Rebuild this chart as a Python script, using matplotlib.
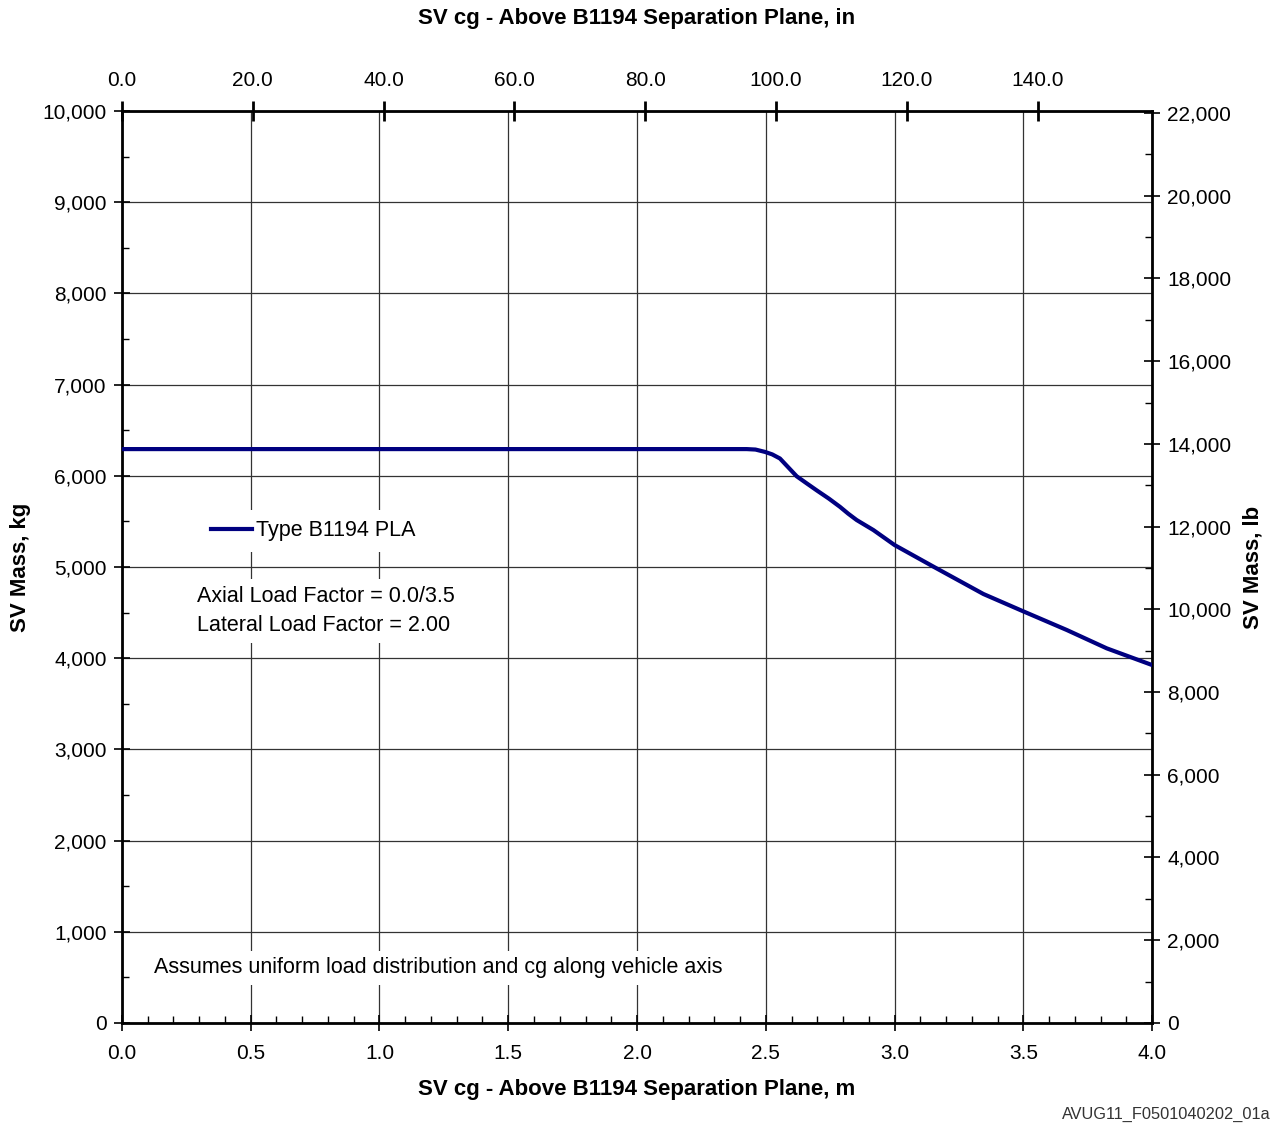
import numpy as np
import matplotlib.pyplot as plt
from matplotlib.ticker import MultipleLocator, FuncFormatter

plt.rcParams['font.family'] = ['Liberation Sans', 'DejaVu Sans']

# Curva (m, kg)
cg_m = [0.0, 0.5, 1.0, 1.5, 2.0, 2.245, 2.426, 2.46, 2.497, 2.525, 2.555,
        2.585, 2.620, 2.66, 2.698, 2.745, 2.788, 2.82, 2.853, 2.918, 3.0,
        3.151, 3.345, 3.494, 3.669, 3.824, 4.0]
mass_kg = [6293, 6293, 6293, 6293, 6293, 6293, 6293, 6288, 6262, 6235, 6190,
           6100, 5995, 5915, 5840, 5750, 5660, 5585, 5515, 5405, 5241,
           5004, 4704, 4521, 4309, 4108, 3925]

series_label = 'Type B1194 PLA'
note_loads = 'Axial Load Factor = 0.0/3.5\nLateral Load Factor = 2.00'
note_dist = 'Assumes uniform load distribution and cg along vehicle axis'
fig_id = 'AVUG11_F0501040202_01a'

M2IN = 1 / 0.0254
KG2LB = 2.20462

fig = plt.figure(figsize=(12.73, 11.24), dpi=100)
ax = fig.add_axes([0.0958, 0.0899, 0.8092, 0.8113])

ax.plot(cg_m, mass_kg, color='#000080', lw=3, label=series_label, zorder=3)

ax.set_xlim(0, 4.0)
ax.set_ylim(0, 10000)
ax.xaxis.set_major_locator(MultipleLocator(0.5))
ax.xaxis.set_minor_locator(MultipleLocator(0.1))
ax.yaxis.set_major_locator(MultipleLocator(1000))
ax.yaxis.set_minor_locator(MultipleLocator(500))
ax.xaxis.set_major_formatter(FuncFormatter(lambda v, p: '%.1f' % v))
ax.yaxis.set_major_formatter(FuncFormatter(lambda v, p: '{:,.0f}'.format(v)))
ax.grid(True, which='major', color='#333333', lw=0.9, zorder=0)

ax.tick_params(which='major', direction='inout', length=12, width=1.2, labelsize=15, pad=5)
ax.tick_params(which='minor', direction='in', length=5, width=1)
ax.tick_params(axis='x', which='major', pad=9)
for s in ax.spines.values():
    s.set_linewidth(2)

ax.set_xlabel('SV cg - Above B1194 Separation Plane, m', fontsize=16, fontweight='bold', labelpad=12)
ax.set_ylabel('SV Mass, kg', fontsize=16, fontweight='bold', labelpad=8)

# Eixo superior em polegadas
top = ax.secondary_xaxis('top', functions=(lambda x: x * M2IN, lambda x: x / M2IN))
top.set_xticks(np.arange(0, 141, 20))
top.xaxis.set_major_formatter(FuncFormatter(lambda v, p: '%.1f' % v))
top.tick_params(direction='inout', length=14, width=2, labelsize=15, pad=8)
top.set_xlabel('SV cg - Above B1194 Separation Plane, in', fontsize=16, fontweight='bold', labelpad=34)

# Eixo direito em libras
right = ax.secondary_yaxis('right', functions=(lambda y: y * KG2LB, lambda y: y / KG2LB))
right.yaxis.set_major_locator(MultipleLocator(2000))
right.yaxis.set_minor_locator(MultipleLocator(1000))
right.yaxis.set_major_formatter(FuncFormatter(lambda v, p: '{:,.0f}'.format(v)))
right.tick_params(which='major', direction='inout', length=12, width=1.2, labelsize=15, pad=5)
right.tick_params(which='minor', direction='in', length=5, width=1)
right.set_ylabel('SV Mass, lb', fontsize=16, fontweight='bold', labelpad=8)

leg = ax.legend(loc='center left', bbox_to_anchor=(0.066, 0.5395), frameon=True,
                fontsize=15.5, handlelength=1.9, handletextpad=0.15, borderpad=0.5,
                fancybox=False)
leg.get_frame().set_edgecolor('none')
leg.get_frame().set_facecolor('white')
leg.get_frame().set_alpha(1)

ax.text(0.073, 0.4518, note_loads, transform=ax.transAxes, fontsize=15.5,
        ha='left', va='center', linespacing=1.5, zorder=4,
        bbox=dict(facecolor='white', edgecolor='none', pad=5))
ax.text(0.031, 0.0603, note_dist, transform=ax.transAxes, fontsize=15.5,
        ha='left', va='center', zorder=4,
        bbox=dict(facecolor='white', edgecolor='none', pad=5))

fig.text(0.998, 0.002, fig_id, fontsize=11.8, ha='right', va='bottom', color='#333333')

fig.savefig('out.png', dpi=100)
